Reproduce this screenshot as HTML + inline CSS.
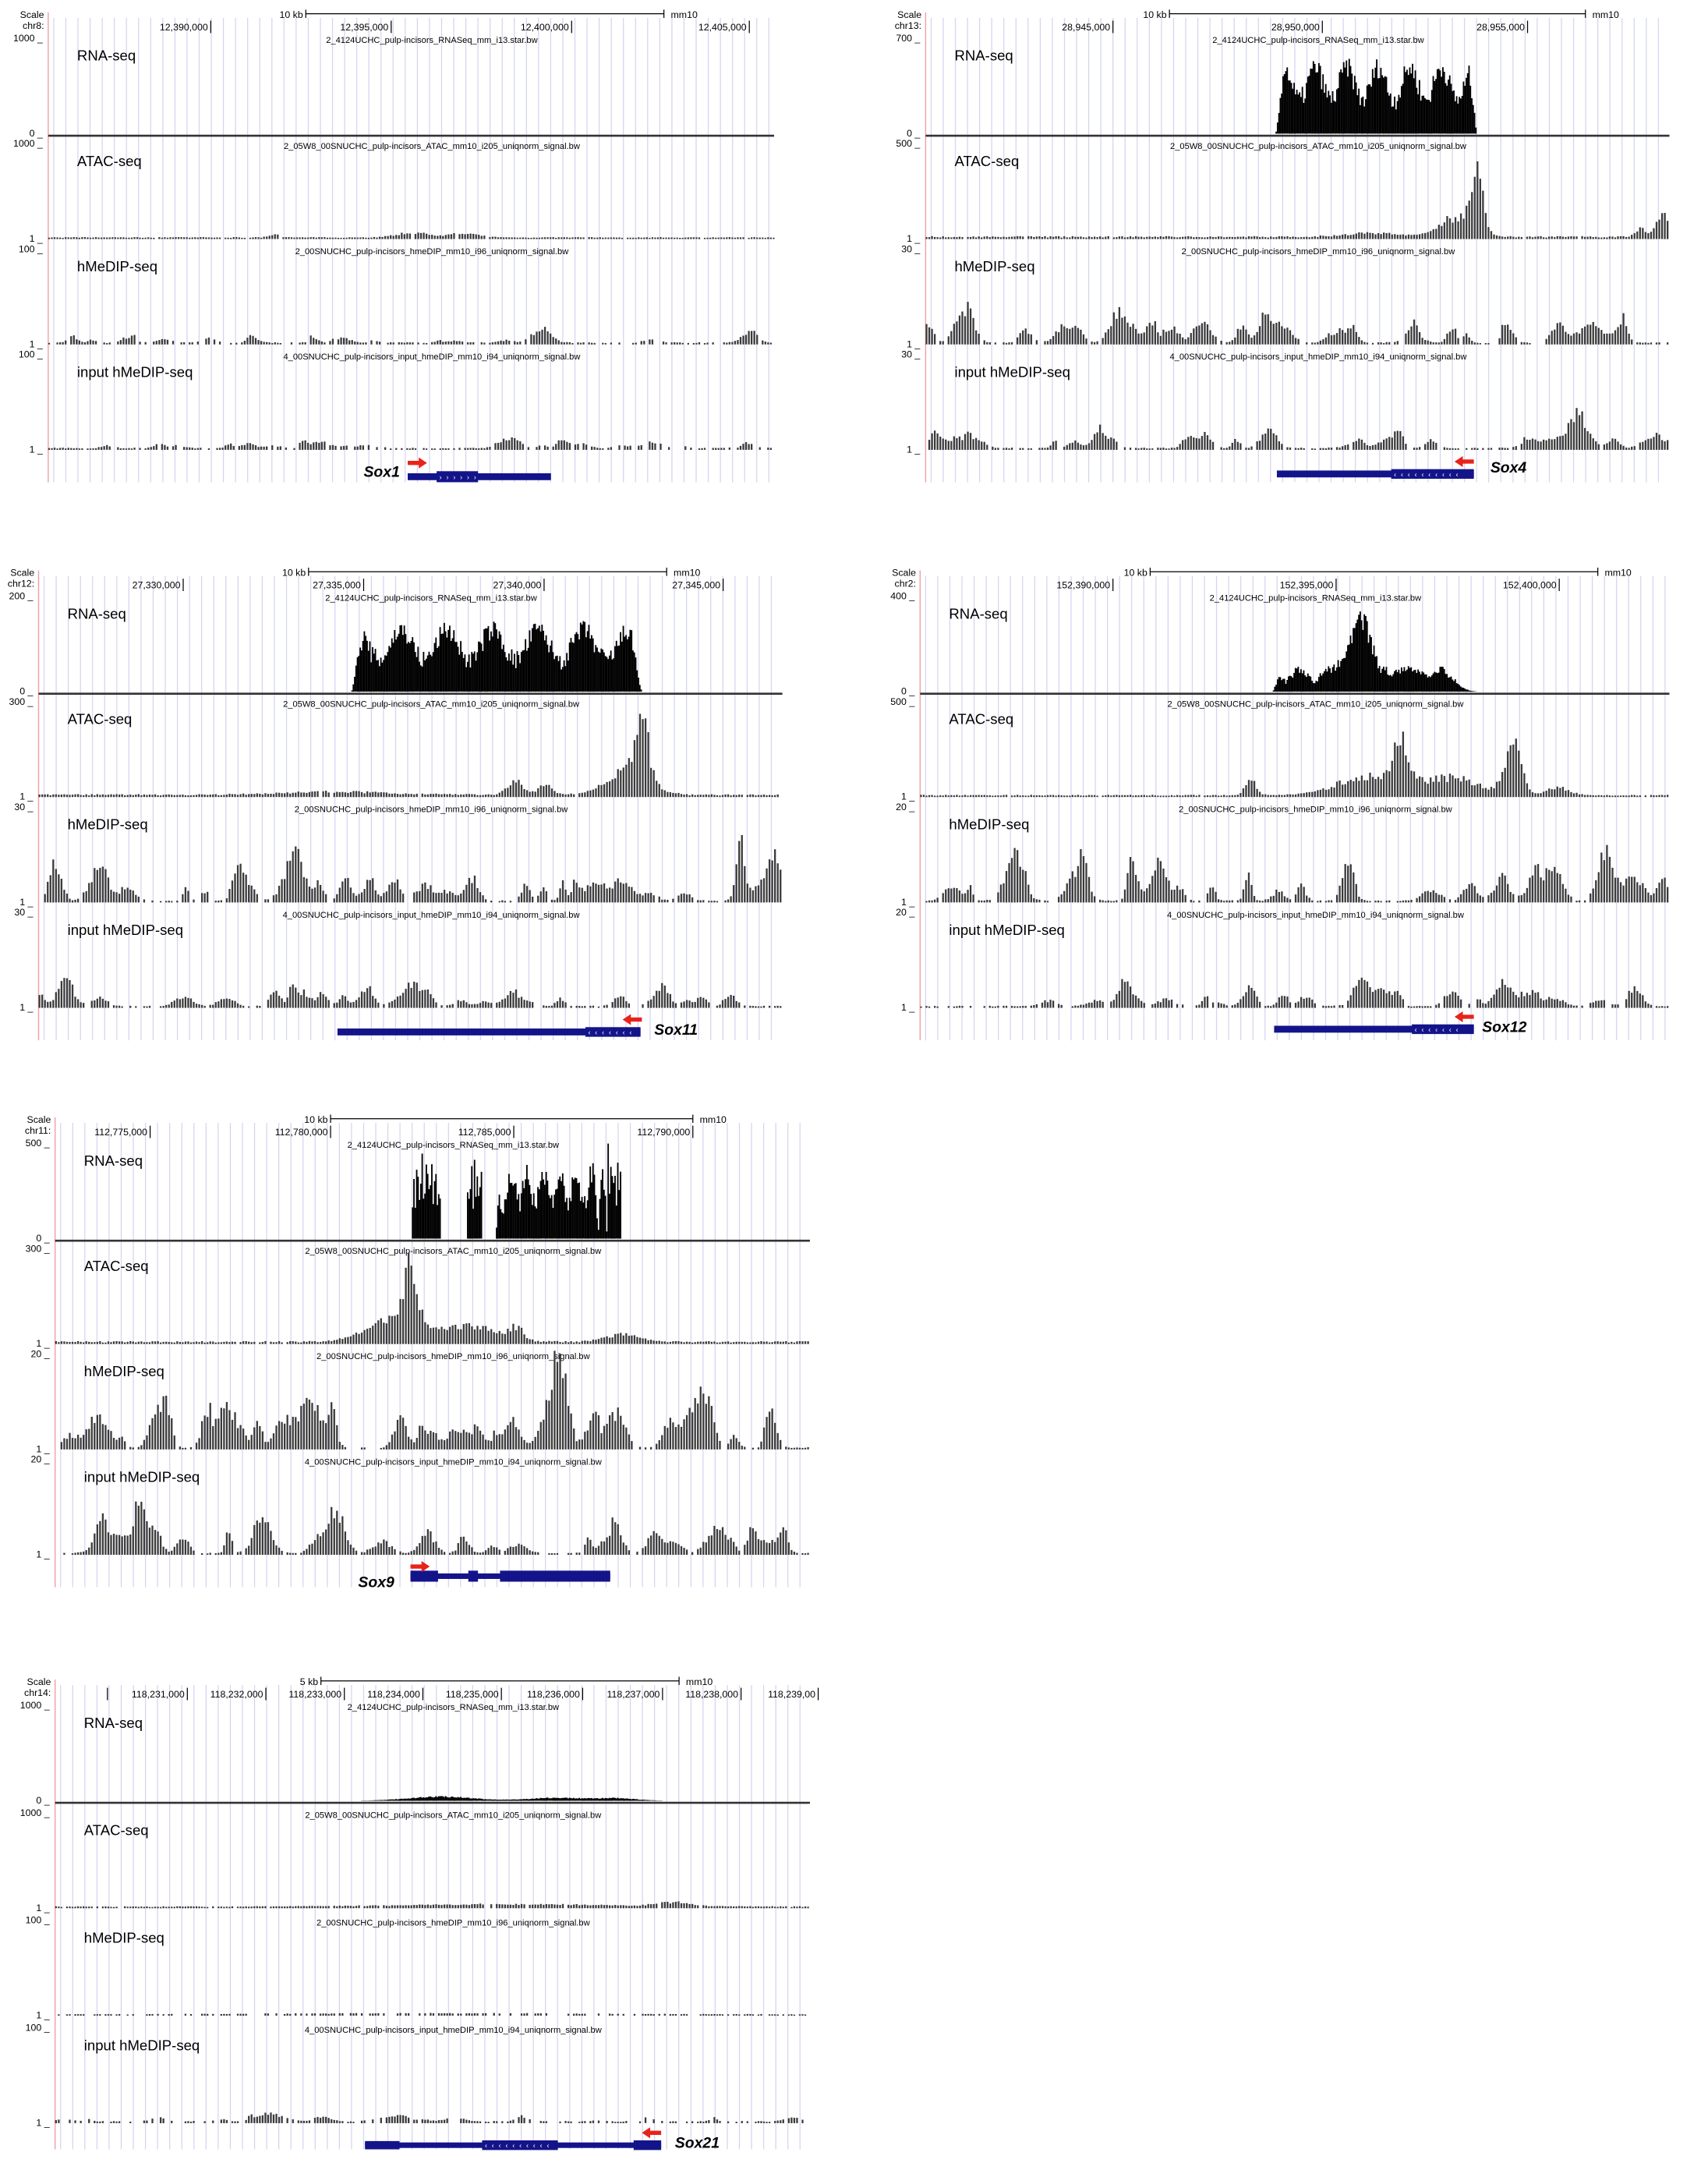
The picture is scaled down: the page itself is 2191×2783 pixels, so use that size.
<!DOCTYPE html>
<html><head><meta charset="utf-8"><style>
html,body{margin:0;padding:0;background:#fff;}
svg{display:block;}
text{font-family:"Liberation Sans",sans-serif;}
</style></head><body>
<svg id="s" width="2191" height="2783" viewBox="0 0 1240 1575" preserveAspectRatio="none" xmlns="http://www.w3.org/2000/svg"></svg>
<script>
var S=document.getElementById('s'),out=[];
var seed=7;function rnd(){seed=(seed*16807)%2147483647;return seed/2147483647;}
function T(x,y,s,sz,o){out.push('<text x="'+x+'" y="'+y+'" font-size="'+sz+'" '+(o||'')+'>'+s+'</text>');}
function R(x,y,w,h,c){out.push('<rect x="'+x.toFixed(1)+'" y="'+y.toFixed(1)+'" width="'+w.toFixed(2)+'" height="'+Math.max(0,h).toFixed(2)+'" fill="'+c+'"/>');}
function L(x1,y1,x2,y2,c,w){out.push('<line x1="'+x1+'" y1="'+y1+'" x2="'+x2+'" y2="'+y2+'" stroke="'+c+'" stroke-width="'+(w||1)+'"/>');}
function g(f,pk){var v=0;for(var i=0;i<pk.length;i++){var p=pk[i];v+=p[1]*Math.exp(-Math.pow((f-p[0])/p[2],2));}return v;}
function randClusters(n,hmax){var a=[];for(var i=0;i<n;i++)a.push([rnd(),hmax*(0.3+0.7*rnd()),0.005+0.012*rnd()]);return a;}
var files=["2_4124UCHC_pulp-incisors_RNASeq_mm_i13.star.bw","2_05W8_00SNUCHC_pulp-incisors_ATAC_mm10_i205_uniqnorm_signal.bw","2_00SNUCHC_pulp-incisors_hmeDIP_mm10_i96_uniqnorm_signal.bw","4_00SNUCHC_pulp-incisors_input_hmeDIP_mm10_i94_uniqnorm_signal.bw"];
var names=["RNA-seq","ATAC-seq","hMeDIP-seq","input hMeDIP-seq"];
function panel(P){
 var t=P.top,dl=P.dl,dr=P.dr,W=dr-dl,pitch=P.pitch||76.5;
 for(var x=dl+4;x<dr;x+=8.8)L(x.toFixed(1),t+8,x.toFixed(1),t+345,'#d4d4f0',0.7);
 L(dl,t+4,dl,t+345,'#f0a0a0',0.8);
 T(dl-3,t+8,'Scale',7,'text-anchor="end"');T(dl-3,t+16,P.chr,7,'text-anchor="end"');
 P.ticks.forEach(function(k){T(k[0]-2,t+17,k[1],7,'text-anchor="end"');L(k[0],t+10,k[0],t+19,'#000',0.7);});
 T(P.sb[0]-2,t+8,P.sb[2],7,'text-anchor="end"');L(P.sb[0],t+5,P.sb[1],t+5,'#000',0.7);L(P.sb[0],t+2,P.sb[0],t+8,'#000',0.7);L(P.sb[1],t+2,P.sb[1],t+8,'#000',0.7);T(P.sb[1]+5,t+8,'mm10',7);
 var cx=(dl+dr)/2;
 for(var i=0;i<4;i++){
  var ymax=t+23+i*pitch,ymin=ymax+69;
  T(cx+15,ymax+(i==0?3:3.5),files[i],6.3,'text-anchor="middle"');
  T(dl-4,ymax+2,P.lab[i]+' _',7,'text-anchor="end"');
  T(dl-4,ymin+2,(i==0?'0':'1')+' _',7,'text-anchor="end"');
  T(dl+21,ymax+16,names[i],10.5);
  var tr=P.tr[i];
  if(i==0){
   for(var x=dl;x<dr;x+=1){var f=(x-dl)/W,v=0;
    tr.forEach(function(b){if(f>=b[0]&&f<=b[1]){var u=(f-b[0])/(b[1]-b[0]);v=Math.max(v,b[2]*(0.55+0.45*Math.sin(u*40+b[3])*0.5+0.3*rnd())*Math.min(1,u*25,(1-u)*25));}});
    if(P.rnaPk)v=Math.max(v,g(f,P.rnaPk)*(0.7+0.3*rnd()));
    if(v>0.002)R(x,ymin-Math.min(v,1)*69,1.05,Math.min(v,1)*69,'#000');}
   L(dl,ymin+1.5,dr,ymin+1.5,'#333',1.5);
  }else{
   var pk=tr.pk.concat(tr.cl?randClusters(tr.cl,tr.ch):[]);
   for(var x=dl;x<dr;x+=2){var f=(x-dl)/W;var v=g(f,pk)*(0.6+0.4*rnd());
    if(tr.gap&&rnd()<tr.gap&&v<0.05){continue;}
    v+=tr.base*(0.5+rnd());
    R(x,ymin-v*69-0.6,1.3,v*69+0.6,'#3a3a3a');}
  }
 }
 var gy=t+P.gy;
 P.gene.forEach(function(s){R(s[0],gy-s[2]/2,s[1]-s[0],s[2],'#14148a');});
 if(P.chev){for(var x=P.chev[0];x<P.chev[1];x+=5)T(x,gy+2,P.chev[2],5,'fill="#fff"');}
 var a=P.arrow;if(a){var d=a[2],ay=t+a[1];out.push('<polygon fill="#e8231a" points="'+(a[0])+','+(ay-1.5)+' '+(a[0]+8*d)+','+(ay-1.5)+' '+(a[0]+8*d)+','+(ay-4)+' '+(a[0]+14*d)+','+ay+' '+(a[0]+8*d)+','+(ay+4)+' '+(a[0]+8*d)+','+(ay+1.5)+' '+a[0]+','+(ay+1.5)+'"/>');}
 T(P.gl[0],P.gl[1],P.gname,11,'font-weight="bold" font-style="italic"');
}
var hm=function(n,h){return {pk:[],cl:n,ch:h,base:0.01,gap:0.35};};
panel({top:5,dl:35,dr:562,chr:'chr8:',lab:['1000','1000','100','100'],
 ticks:[[153,'12,390,000'],[284,'12,395,000'],[415,'12,400,000'],[544,'12,405,000']],sb:[222,482,'10 kb'],
 tr:[[],{pk:[[0.5,0.06,0.03],[0.57,0.05,0.03],[0.31,0.04,0.01]],base:0.008,gap:0.05},hm(25,0.08),hm(25,0.07)],
 gy:341,gene:[[296,400,5],[317,347,8]],chev:[319,346,'›'],arrow:[296,331,1],gname:'Sox1',gl:[264,346]});
panel({top:5,dl:672,dr:1212,chr:'chr13:',lab:['700','500','30','30'],
 ticks:[[808,'28,945,000'],[960,'28,950,000'],[1109,'28,955,000']],sb:[849,1151,'10 kb'],
 tr:[[[0.47,0.74,0.75,0]],{pk:[[0.74,0.75,0.012],[0.71,0.25,0.03],[0.6,0.05,0.05],[0.99,0.3,0.012],[0.96,0.1,0.01]],base:0.015,gap:0.02},hm(35,0.25),hm(35,0.15)],
 gy:339,gene:[[927,1070,5],[1010,1070,7]],chev:[1012,1060,'‹'],arrow:[1070,330,-1],gname:'Sox4',gl:[1082,343]});
panel({top:410,dl:28,dr:568,chr:'chr12:',lab:['200','300','30','30'],
 ticks:[[133,'27,330,000'],[264,'27,335,000'],[395,'27,340,000'],[525,'27,345,000']],sb:[224,484,'10 kb'],
 tr:[[[0.42,0.81,0.7,1]],{pk:[[0.81,0.8,0.012],[0.79,0.3,0.04],[0.64,0.18,0.015],[0.68,0.14,0.012],[0.4,0.04,0.1]],base:0.015,gap:0.02},hm(40,0.33),hm(35,0.18)],
 gy:339,gene:[[245,465,5],[425,465,7]],chev:[427,460,'‹'],arrow:[466,330,-1],gname:'Sox11',gl:[475,751]});
panel({top:410,dl:668,dr:1212,chr:'chr2:',lab:['400','500','20','20'],
 ticks:[[808,'152,390,000'],[970,'152,395,000'],[1132,'152,400,000']],sb:[835,1160,'10 kb'],
 tr:[[[0.47,0.71,0.25,2]],{pk:[[0.64,0.55,0.015],[0.79,0.7,0.015],[0.6,0.25,0.06],[0.71,0.22,0.05],[0.44,0.2,0.01],[0.85,0.1,0.02]],base:0.01,gap:0.02},{pk:[[0.57,0.6,0.01]],cl:35,ch:0.35,base:0.01,gap:0.35},hm(35,0.18)],
 rnaPk:[[0.59,0.75,0.02],[0.56,0.3,0.03],[0.65,0.3,0.03],[0.7,0.2,0.02]],
 gy:337,gene:[[925,1070,5],[1025,1070,7]],chev:[1027,1060,'‹'],arrow:[1070,328,-1],gname:'Sox12',gl:[1076,749]});
panel({top:807,dl:40,dr:588,chr:'chr11:',lab:['500','300','20','20'],
 ticks:[[109,'112,775,000'],[240,'112,780,000'],[373,'112,785,000'],[503,'112,790,000']],sb:[240,503,'10 kb'],
 tr:[[[0.472,0.51,0.85,0],[0.545,0.565,0.8,1],[0.583,0.72,0.75,2],[0.72,0.73,0.75,3],[0.73,0.75,0.95,4]],{pk:[[0.47,0.75,0.012],[0.45,0.3,0.05],[0.55,0.2,0.05],[0.61,0.16,0.012],[0.75,0.1,0.03]],base:0.015,gap:0.02},hm(45,0.45),hm(35,0.3)],
 gy:337,gene:[[298,443,4],[298,318,8],[340,347,8],[363,443,8]],arrow:[298,330,1],gname:'Sox9',gl:[260,1152]});
panel({top:1215,dl:40,dr:588,chr:'chr14:',lab:['1000','1000','100','100'],pitch:78,
 ticks:[[78,''],[136,'118,231,000'],[193,'118,232,000'],[250,'118,233,000'],[307,'118,234,000'],[364,'118,235,000'],[423,'118,236,000'],[481,'118,237,000'],[538,'118,238,000'],[594,'118,239,00']],sb:[233,493,'5 kb'],
 tr:[[],{pk:[[0.6,0.03,0.2],[0.82,0.05,0.03]],base:0.008,gap:0.05},{pk:[[0.5,0.015,0.3]],base:0.005,gap:0.5},hm(30,0.05)],
 rnaPk:[[0.51,0.05,0.06],[0.66,0.035,0.05],[0.74,0.03,0.04]],
 gy:342,gene:[[265,480,4],[265,290,6],[350,405,7],[460,480,7]],chev:[352,402,'‹'],arrow:[480,333,-1],gname:'Sox21',gl:[490,1559]});
S.innerHTML=out.join('');
</script>
</body></html>
